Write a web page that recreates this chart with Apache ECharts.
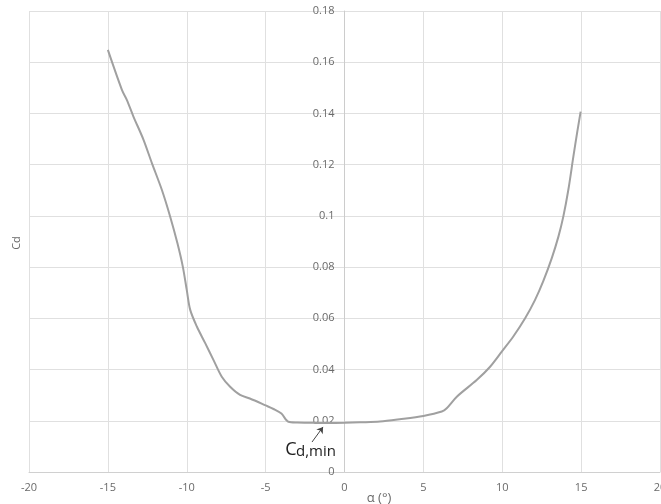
<!DOCTYPE html>
<html><head><meta charset="utf-8">
<script src="https://cdn.jsdelivr.net/npm/echarts@6/dist/echarts.min.js"></script>
<style>html,body{margin:0;padding:0;background:#fff}#c{width:661px;height:504px}</style>
</head><body><div id="c"></div>
<script>
var alpha = [-15,-14.11,-13.8,-13.38,-12.74,-12.21,-11.58,-11.05,-10.59,-10.25,-10.0,-9.78,-9.36,-8.83,-8.31,-7.78,-7.25,-6.62,-6,-5,-4.5,-4,-3.55,-3,-2,-1,0,1,2.25,3.5,5,6.17,6.48,7.12,8.38,9.23,9.97,10.7,11.45,12.08,12.6,13.14,13.56,13.87,14.19,14.51,14.76,14.97];
var cd = [0.1648,0.1492,0.1453,0.1388,0.1297,0.1206,0.1102,0.0997,0.0893,0.0802,0.0711,0.0633,0.0568,0.0503,0.0438,0.0372,0.0333,0.0301,0.0287,0.026,0.0246,0.0228,0.0196,0.0193,0.0192,0.0191,0.0192,0.0194,0.0197,0.0206,0.0219,0.0236,0.0249,0.0294,0.0359,0.0411,0.047,0.0529,0.0600,0.0672,0.0745,0.0835,0.0919,0.0997,0.1102,0.1232,0.1330,0.1407];
var arrowFrom = [-2.06, 0.0117];
var arrowTo = [-1.36, 0.0176];
var xTitle = 'α (°)';
var yTitle = 'Cd';
var annMain = 'C';
var annSub = 'd,min';

var pts = alpha.map(function(a,i){return [a, cd[i]];});
var chart = echarts.init(document.getElementById('c'));
var labCol = '#6a6a6a';
var FF = 'Open Sans';
var gridLeft = 29;
chart.setOption({
  animation:false,
  grid:{left:gridLeft,right:1,top:11,bottom:32,outerBoundsMode:'none',containLabel:false},
  xAxis:{type:'value',min:-20,max:20,interval:5,
    axisLine:{show:true,lineStyle:{color:'#d0d0d0'}},axisTick:{show:false},
    axisLabel:{color:labCol,fontSize:11,fontFamily:FF,margin:10},
    splitLine:{show:true,lineStyle:{color:'#e0e0e0'}}},
  yAxis:{type:'value',min:0,max:0.18,interval:0.02,
    axisLine:{show:true,onZero:false,lineStyle:{color:'#cccccc'}},axisTick:{show:false},
    axisLabel:{color:labCol,fontSize:11,fontFamily:FF,margin:10},
    splitLine:{show:true,lineStyle:{color:'#e0e0e0'}}},
  graphic:[
    {type:'text',x:379,y:498,style:{text:xTitle,fill:labCol,font:'13px "Open Sans"',align:'center',verticalAlign:'middle'}},
    {type:'text',x:17,y:243,rotation:Math.PI/2,style:{text:yTitle,fill:labCol,font:'11px "Open Sans"',align:'center',verticalAlign:'middle'}},
    {type:'text',x:291,y:450,style:{text:annMain,fill:'#222',font:'18px "Open Sans"',align:'center',verticalAlign:'middle'}},
    {type:'text',x:296,y:452,style:{text:annSub,fill:'#222',font:'15px "Open Sans"',align:'left',verticalAlign:'middle'}}
  ],
  series:[{type:'line',data:pts,smooth:0.3,showSymbol:false,
    lineStyle:{color:'#a0a0a0',width:2},
    markLine:{silent:true,symbol:['none','arrow'],symbolSize:6,label:{show:false},
      lineStyle:{color:'#444',width:1,type:'solid'},
      data:[[{coord:arrowFrom},{coord:arrowTo}]]}}]
});
var px0 = chart.convertToPixel({xAxisIndex:0}, 0);
chart.setOption({yAxis:{offset: -(px0 - gridLeft)}});
</script></body></html>
